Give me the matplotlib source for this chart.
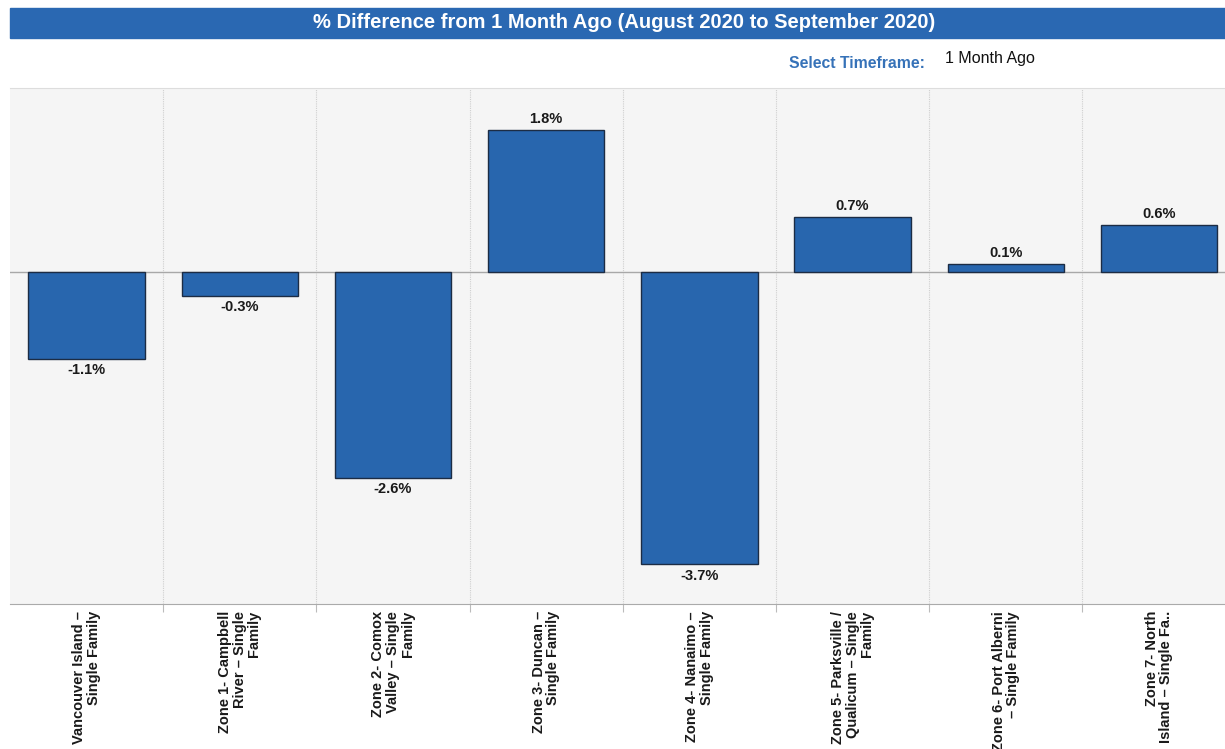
import numpy as np
import matplotlib.pyplot as plt
from matplotlib.patches import Rectangle

plt.rcParams['font.family'] = ['Liberation Sans', 'DejaVu Sans']

# datos
zonas = ['Vancouver Island –\nSingle Family',
         'Zone 1- Campbell\nRiver – Single\nFamily',
         'Zone 2- Comox\nValley – Single\nFamily',
         'Zone 3- Duncan –\nSingle Family',
         'Zone 4- Nanaimo –\nSingle Family',
         'Zone 5- Parksville /\nQualicum – Single\nFamily',
         'Zone 6- Port Alberni\n– Single Family',
         'Zone 7- North\nIsland – Single Fa..']
cambio = [-1.1, -0.3, -2.6, 1.8, -3.7, 0.7, 0.1, 0.6]
titulo = '% Difference from 1 Month Ago (August 2020 to September 2020)'

W, H = 1225, 749
azul = '#2866ae'
colw = 153.2  # ancho de cada columna en px

fig = plt.figure(figsize=(W / 100, H / 100), dpi=100)

# banda del titulo
fig.patches.append(Rectangle((10 / W, 1 - 38 / H), 1 - 10 / W, 30 / H,
                             transform=fig.transFigure, color='#2a68b2', zorder=0))
fig.text(624 / W, 1 - 23 / H, titulo, color='white', fontsize=14.5,
         fontweight='bold', ha='center', va='center')
fig.text(925 / W, 1 - 64 / H, 'Select Timeframe:', color='#3672b8', fontsize=11.3,
         fontweight='bold', ha='right', va='center')
fig.text(945 / W, 1 - 58 / H, '1 Month Ago', color='#111111', fontsize=11.5,
         ha='left', va='center')

# zona del grafico
ax = fig.add_axes([10 / W, (H - 604) / H, 1215 / W, (604 - 88) / H])
ax.set_facecolor('#f5f5f5')
x = np.arange(len(zonas))
ax.bar(x, cambio, width=0.76, color=azul, edgecolor='#1c2c44', linewidth=1, zorder=3)
ax.axhline(0, color='#a8a8a8', linewidth=1, zorder=2)

bordes = np.arange(0.5, 7, 1)
for b in bordes:
    ax.axvline(b, color='#cfcfcf', linewidth=0.8, linestyle=(0, (1, 1)), zorder=1)

for xi, v in zip(x, cambio):
    if v >= 0:
        ax.annotate(f'{v:.1f}%', (xi, v), xytext=(0, 3), textcoords='offset points',
                    ha='center', va='bottom', fontsize=10.5, fontweight='bold',
                    color='#1a1a1a')
    else:
        ax.annotate(f'{v:.1f}%', (xi, v), xytext=(0, -3), textcoords='offset points',
                    ha='center', va='top', fontsize=10.5, fontweight='bold',
                    color='#1a1a1a')

ax.set_yticks([])
ax.set_xticks(bordes)
ax.set_xticklabels([])
ax.tick_params(axis='x', length=6, color='#bbbbbb', width=0.8)
ax.set_xlim(-0.5, -0.5 + 1215 / colw)
ax.set_ylim(-4.2, 2.33)
for s in ['left', 'right']:
    ax.spines[s].set_visible(False)
ax.spines['top'].set_color('#dddddd')
ax.spines['bottom'].set_color('#aaaaaa')

for xi, z in zip(x, zonas):
    ax.annotate(z, (xi, 0), xycoords=('data', 'axes fraction'), xytext=(0, -5),
                textcoords='offset points', rotation=90, ha='center', va='top',
                multialignment='right', fontsize=10.5, fontweight='bold',
                color='#1a1a1a', linespacing=1.05, annotation_clip=False)

fig.savefig('out.png', dpi=100)
